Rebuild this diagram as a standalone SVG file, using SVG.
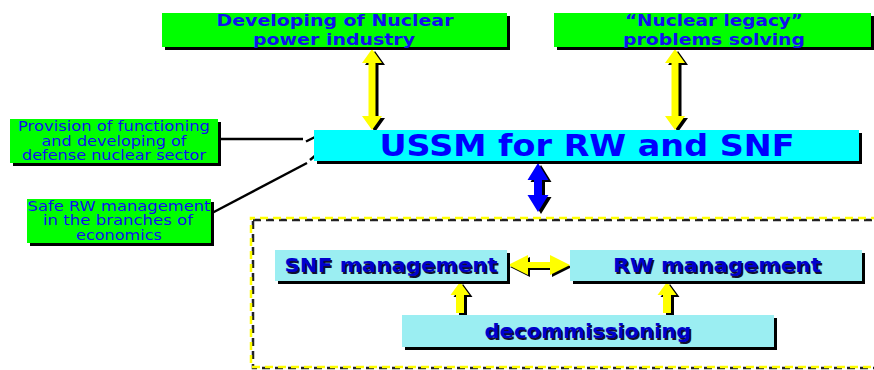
<svg xmlns="http://www.w3.org/2000/svg" width="874" height="370" viewBox="0 0 874 370">
  <style>
    .green { fill: #00ff00; }
    .cyan { fill: #00ffff; }
    .pale { fill: #9beef2; }
    .shadow { fill: #000000; }
    .t-top { font-family: "DejaVu Sans", Verdana, sans-serif; font-weight: bold; font-size: 16.5px; fill: #1010ee; text-anchor: middle; }
    .t-side { font-family: "DejaVu Sans", Verdana, sans-serif; font-size: 13.5px; fill: #1010ee; text-anchor: middle; }
    .t-main { font-family: "DejaVu Sans", Verdana, sans-serif; font-weight: bold; font-size: 30px; fill: #0000ff; text-anchor: middle; }
    .t-sub { font-family: "DejaVu Sans", Verdana, sans-serif; font-weight: bold; font-size: 20px; fill: #0000cc; text-anchor: middle; }
    .t-sub-sh { font-family: "DejaVu Sans", Verdana, sans-serif; font-weight: bold; font-size: 20px; fill: #101030; text-anchor: middle; }
    .line { stroke: #000000; stroke-width: 2.5; fill: none; }
    .yellow { fill: #ffff00; }
    .blue { fill: #0000ff; }
  </style>
  <defs>
    <!-- double-headed vertical arrow, 81 long -->
    <path id="vLong" d="M0,0 L10,14 L3.5,14 L3.5,67 L10,67 L0,81 L-10,67 L-3.5,67 L-3.5,14 L-10,14 Z"/>
    <!-- double-headed vertical arrow, 49 long -->
    <path id="vShort" d="M0,0 L10.5,17 L4,17 L4,32 L10.5,32 L0,49 L-10.5,32 L-4,32 L-4,17 L-10.5,17 Z"/>
    <!-- double-headed horizontal arrow, 62 long -->
    <path id="hArrow" d="M0,0 L20,-10 L20,-3 L42,-3 L42,-10 L62,0 L42,10 L42,3 L20,3 L20,10 Z"/>
    <!-- single up arrow, 31 long -->
    <path id="upArrow" d="M0,0 L9.5,13 L4,13 L4,31 L-4,31 L-4,13 L-9.5,13 Z"/>
  </defs>

  <!-- dashed frame around the management blocks -->
  <g id="frame">
    <rect x="253" y="220" width="630" height="148" fill="none" stroke="#222222" stroke-width="2.5" stroke-dasharray="8,5"/>
    <rect x="251" y="218" width="630" height="149" fill="none" stroke="#ffff00" stroke-width="2.5" stroke-dasharray="8,5" stroke-dashoffset="4"/>
  </g>

  <g id="connectors">
    <!-- side inputs into the central block -->
    <polyline class="line" points="218,139 303,139"/>
    <line class="line" x1="306" y1="141.5" x2="315" y2="137"/>
    <line class="line" x1="212" y1="213" x2="307" y2="163"/>
    <line class="line" x1="310" y1="160" x2="316" y2="155"/>

    <!-- yellow links to the top blocks -->
    <use href="#vLong" class="shadow" transform="translate(375,51)"/>
    <use href="#vLong" class="yellow" transform="translate(372,49)"/>
    <use href="#vLong" class="shadow" transform="translate(678,51)"/>
    <use href="#vLong" class="yellow" transform="translate(675,49)"/>

    <!-- blue link down to the framed group -->
    <use href="#vShort" class="shadow" transform="translate(541,165)"/>
    <use href="#vShort" class="blue" transform="translate(538,163)"/>

    <!-- SNF <-> RW -->
    <use href="#hArrow" class="shadow" transform="translate(510,267)"/>
    <use href="#hArrow" class="yellow" transform="translate(508,265)"/>

    <!-- decommissioning feeds both -->
    <use href="#upArrow" class="shadow" transform="translate(463,284)"/>
    <use href="#upArrow" class="yellow" transform="translate(460,282)"/>
    <use href="#upArrow" class="shadow" transform="translate(670,284)"/>
    <use href="#upArrow" class="yellow" transform="translate(667,282)"/>
  </g>

  <g id="node-nuclear-power">
    <rect class="shadow" x="165" y="16" width="345" height="34"/>
    <rect class="green" x="162" y="13" width="345" height="34"/>
    <text class="t-top" x="335" y="26" textLength="237" lengthAdjust="spacingAndGlyphs">Developing of Nuclear</text>
    <text class="t-top" x="334" y="45" textLength="162" lengthAdjust="spacingAndGlyphs">power industry</text>
  </g>

  <g id="node-legacy">
    <rect class="shadow" x="557" y="16" width="317" height="34"/>
    <rect class="green" x="554" y="13" width="317" height="34"/>
    <text class="t-top" x="714" y="26" textLength="178" lengthAdjust="spacingAndGlyphs">“Nuclear legacy”</text>
    <text class="t-top" x="714" y="45" textLength="182" lengthAdjust="spacingAndGlyphs">problems solving</text>
  </g>

  <g id="node-defense">
    <rect class="shadow" x="13" y="122" width="208" height="44"/>
    <rect class="green" x="10" y="119" width="208" height="44"/>
    <text class="t-side" x="114" y="131" textLength="192" lengthAdjust="spacingAndGlyphs">Provision of functioning</text>
    <text class="t-side" x="114" y="145.5" textLength="145" lengthAdjust="spacingAndGlyphs">and developing of</text>
    <text class="t-side" x="114" y="160" textLength="184" lengthAdjust="spacingAndGlyphs">defense nuclear sector</text>
  </g>

  <g id="node-safe-rw">
    <rect class="shadow" x="30" y="202" width="184" height="44"/>
    <rect class="green" x="27" y="199" width="184" height="44"/>
    <text class="t-side" x="119" y="210.5" textLength="183" lengthAdjust="spacingAndGlyphs">Safe RW management</text>
    <text class="t-side" x="118" y="225" textLength="150" lengthAdjust="spacingAndGlyphs">in the branches of</text>
    <text class="t-side" x="119" y="240" textLength="86" lengthAdjust="spacingAndGlyphs">economics</text>
  </g>

  <g id="node-ussm">
    <rect class="shadow" x="317" y="133" width="545" height="31"/>
    <rect class="cyan" x="314" y="130" width="545" height="31"/>
    <text class="t-main" x="587" y="155.5" textLength="415" lengthAdjust="spacingAndGlyphs">USSM for RW and SNF</text>
  </g>

  <g id="node-snf">
    <rect class="shadow" x="278" y="253" width="232" height="31"/>
    <rect class="pale" x="275" y="250" width="232" height="31"/>
    <text class="t-sub-sh" x="392.5" y="273.5" textLength="213" lengthAdjust="spacingAndGlyphs">SNF management</text>
    <text class="t-sub" x="391" y="272" textLength="213" lengthAdjust="spacingAndGlyphs">SNF management</text>
  </g>

  <g id="node-rw">
    <rect class="shadow" x="573" y="253" width="292" height="31"/>
    <rect class="pale" x="570" y="250" width="292" height="31"/>
    <text class="t-sub-sh" x="718.5" y="273.5" textLength="208" lengthAdjust="spacingAndGlyphs">RW management</text>
    <text class="t-sub" x="717" y="272" textLength="208" lengthAdjust="spacingAndGlyphs">RW management</text>
  </g>

  <g id="node-decommissioning">
    <rect class="shadow" x="405" y="318" width="372" height="32"/>
    <rect class="pale" x="402" y="315" width="372" height="32"/>
    <text class="t-sub-sh" x="589.5" y="339.5" textLength="207" lengthAdjust="spacingAndGlyphs">decommissioning</text>
    <text class="t-sub" x="588" y="338" textLength="207" lengthAdjust="spacingAndGlyphs">decommissioning</text>
  </g>
</svg>
